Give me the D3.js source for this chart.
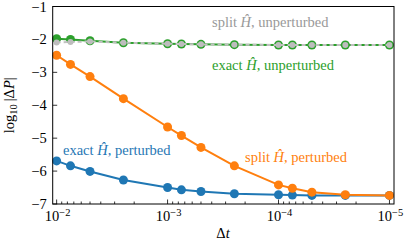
<!DOCTYPE html>
<meta charset="utf-8" />
<style>
  body { margin: 0; background: #fff; }
  text { font-family: "Liberation Serif", "Times New Roman", "DejaVu Serif", serif; }
</style>
<svg width="407" height="241"></svg>
<script src="https://d3js.org/d3.v7.min.js"></script>
<script>
  // time steps (x) and log10|dP| for each run
  const dt = [1e-2, 7.5e-3, 5e-3, 2.5e-3, 1e-3, 7.5e-4, 5e-4, 2.5e-4, 1e-4, 7.5e-5, 5e-5, 2.5e-5, 1e-5];
  const exactPerturbed = [-5.69, -5.84, -6.01, -6.27, -6.5, -6.57, -6.62, -6.69, -6.72, -6.73, -6.74, -6.74, -6.74];
  const splitPerturbed = [-2.48, -2.76, -3.13, -3.8, -4.66, -4.92, -5.28, -5.84, -6.42, -6.52, -6.64, -6.72, -6.74];
  const exactUnperturbed = [-1.98, -2.0, -2.04, -2.1, -2.13, -2.14, -2.15, -2.16, -2.17, -2.17, -2.17, -2.17, -2.17];
  const splitUnperturbed = [-2.09, -2.08, -2.06, -2.1, -2.13, -2.14, -2.15, -2.16, -2.17, -2.17, -2.17, -2.17, -2.17];
  const yTicks = [-7, -6, -5, -4, -3, -2, -1];
  const xTicks = [1e-2, 1e-3, 1e-4, 1e-5];

  const svg = d3.select('svg');
  const mLeft = 52.7, mRight = 394, mTop = 6.5, mBottom = 204;
  const fs = 14.5;

  const x = d3.scaleLog().domain([1.085e-2, 0.91e-5]).range([mLeft, mRight]);
  const y = d3.scaleLinear().domain([-7, -1]).range([mBottom, mTop]);

  const line = d3.line()
    .x(function (d, i) { return x(dt[i]); })
    .y(function (d) { return y(d); });

  // minor ticks on the x axis
  const minor = [];
  for (let e = -5; e <= -3; e++) {
    for (let k = 2; k <= 9; k++) minor.push(k * Math.pow(10, e));
  }

  const g = svg.append('g');
  g.selectAll('line.minor')
    .data(minor)
    .join('line')
    .attr('x1', function (d) { return x(d); })
    .attr('x2', function (d) { return x(d); })
    .attr('y1', mBottom)
    .attr('y2', mBottom - 2.5)
    .attr('stroke', '#000')
    .attr('stroke-width', 0.8);
  g.selectAll('line.major')
    .data(xTicks)
    .join('line')
    .attr('x1', function (d) { return x(d); })
    .attr('x2', function (d) { return x(d); })
    .attr('y1', mBottom)
    .attr('y2', mBottom - 4.5)
    .attr('stroke', '#000')
    .attr('stroke-width', 0.8);

  const xl = g.selectAll('text.xt')
    .data(xTicks)
    .join('text')
    .attr('x', function (d) { return x(d) + 1; })
    .attr('y', 221)
    .attr('text-anchor', 'middle')
    .attr('font-size', fs);
  xl.append('tspan').text('10');
  xl.append('tspan')
    .attr('dy', -5.5)
    .attr('font-size', 10.5)
    .text(function (d) { return '\u2212' + Math.round(-Math.log10(d)); });

  g.selectAll('line.yt')
    .data(yTicks)
    .join('line')
    .attr('x1', mLeft)
    .attr('x2', mLeft + 4.5)
    .attr('y1', function (d) { return y(d); })
    .attr('y2', function (d) { return y(d); })
    .attr('stroke', '#000')
    .attr('stroke-width', 0.8);
  g.selectAll('text.yt')
    .data(yTicks)
    .join('text')
    .attr('x', mLeft - 6)
    .attr('y', function (d) { return y(d) + 5; })
    .attr('text-anchor', 'end')
    .attr('font-size', fs)
    .text(function (d) { return '\u2212' + (-d); });

  svg.append('text')
    .attr('x', 223)
    .attr('y', 238)
    .attr('text-anchor', 'middle')
    .attr('font-size', fs)
    .html('\u0394<tspan font-style="italic">t</tspan>');

  const yl = svg.append('text')
    .attr('transform', 'translate(14,' + ((mTop + mBottom) / 2) + ') rotate(-90)')
    .attr('text-anchor', 'middle')
    .attr('font-size', fs);
  yl.append('tspan').text('log');
  yl.append('tspan').attr('dy', 3).attr('font-size', 10.5).text('10');
  yl.append('tspan').attr('dy', -3).text('\u2009|\u0394');
  yl.append('tspan').attr('font-style', 'italic').text('P');
  yl.append('tspan').text('|');

  function series(vals, color, r, dash, fill) {
    const s = svg.append('g');
    s.append('path')
      .datum(vals)
      .attr('d', line)
      .attr('fill', 'none')
      .attr('stroke', color)
      .attr('stroke-width', 2)
      .attr('stroke-dasharray', dash);
    s.selectAll('circle')
      .data(vals)
      .join('circle')
      .attr('cx', function (d, i) { return x(dt[i]); })
      .attr('cy', function (d) { return y(d); })
      .attr('r', r)
      .attr('fill', fill || color);
  }

  series(exactPerturbed, '#1f77b4', 4.5, null);
  series(splitPerturbed, '#ff7f0e', 4.5, null);
  series(exactUnperturbed, '#2ca02c', 4.5, null);
  series(splitUnperturbed, '#c0c0c0', 3, '4,3', '#bdbdbd');

  svg.append('rect')
    .attr('x', mLeft)
    .attr('y', mTop)
    .attr('width', mRight - mLeft)
    .attr('height', mBottom - mTop)
    .attr('fill', 'none')
    .attr('stroke', '#000')
    .attr('stroke-width', 1);

  function ann(xp, yp, color, pre, post) {
    const t = svg.append('text')
      .attr('x', xp)
      .attr('y', yp)
      .attr('font-size', fs)
      .attr('fill', color);
    t.append('tspan').text(pre + ' ');
    t.append('tspan').attr('font-style', 'italic').text('\u0124');
    t.append('tspan').text(', ' + post);
  }
  ann(212, 27, '#999999', 'split', 'unperturbed');
  ann(212, 70, '#2ca02c', 'exact', 'unperturbed');
  ann(63, 155, '#1f77b4', 'exact', 'perturbed');
  ann(245, 162, '#ff7f0e', 'split', 'perturbed');
</script>
